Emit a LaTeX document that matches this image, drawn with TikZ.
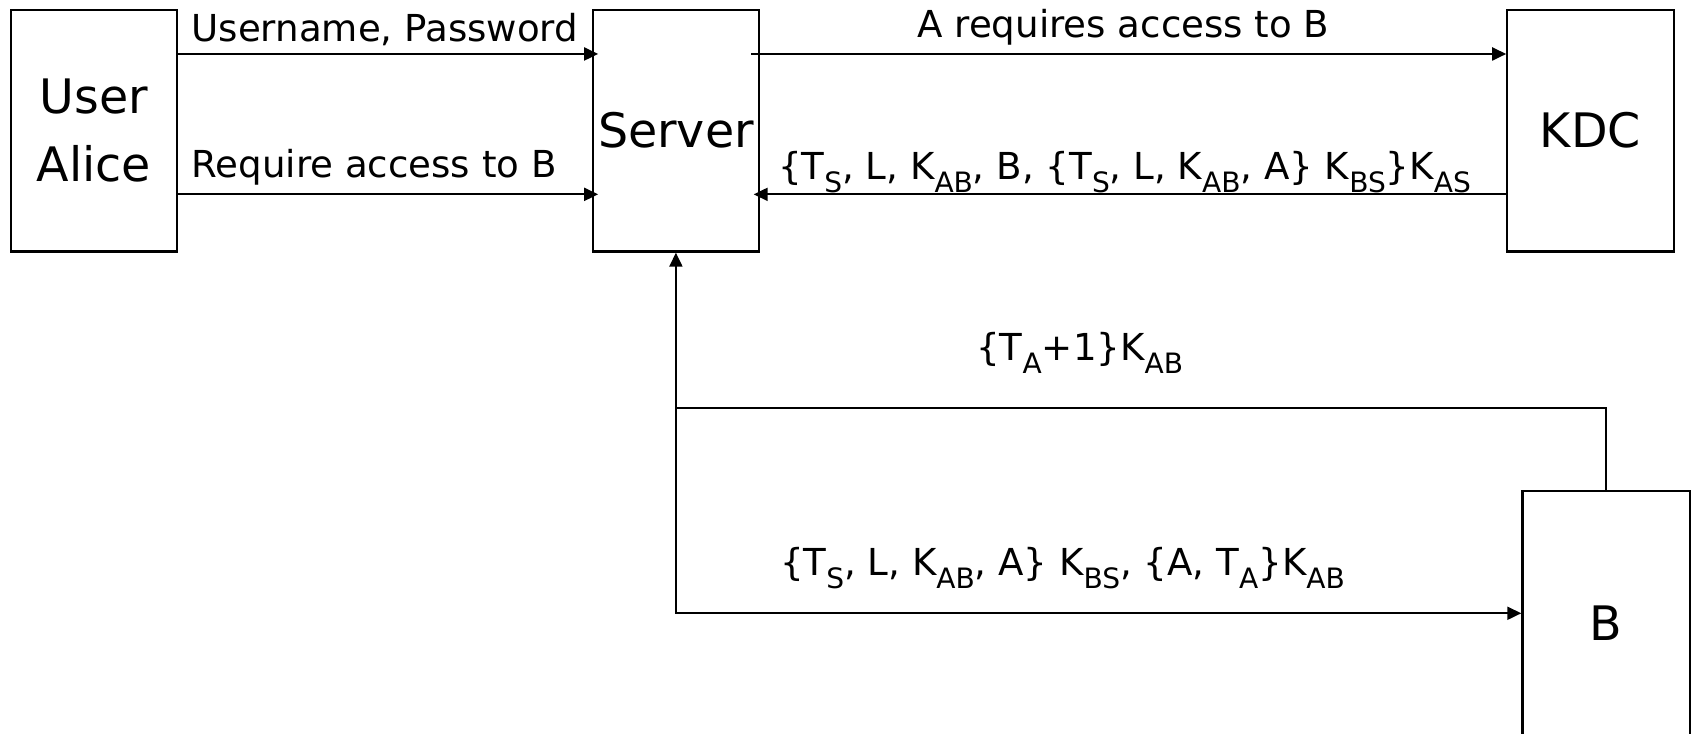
\documentclass[tikz,border=0pt]{standalone}
\usepackage{fontspec}
\setmainfont{DejaVu Sans}
\usetikzlibrary{arrows.meta,calc}
% lowered subscript as used in the message labels
\newcommand\sbs[1]{\raisebox{-0.36em}{\fontsize{13}{13}\selectfont #1}}

\begin{document}
\begin{tikzpicture}[x=0.5pt,y=-0.5pt,
  entity/.style={draw,line width=1pt,minimum width=77pt,minimum height=112pt,
    inner sep=0pt,align=center,font=\fontsize{22}{31.5}\selectfont},
  msg/.style={inner sep=0pt,font=\fontsize{17.2}{20}\selectfont},
  arr/.style={line width=1pt,-{Triangle[length=6.5pt,width=6pt]}},
  link/.style={line width=1pt}]
\clip (0,0) rectangle (1568,679);

% parties
\node[entity] (alice)  at (87,121)   {User\\Alice};
\node[entity] (server) at (626,121)  {Server};
\node[entity] (kdc)    at (1473,121) {KDC};
\node[entity,minimum width=77.5pt,minimum height=122.5pt] (b) at (1487.5,577.5) {B};

% junction points of the lower routes
\coordinate (j)  at (server.south |- 0,378);
\coordinate (jb) at (b.north |- 0,378);

% Alice -> Server
\draw[arr] (alice.east |- 0,50)  -- ($(server.west |- 0,50)+(6,0)$);
\draw[arr] (alice.east |- 0,180) -- ($(server.west |- 0,180)+(6,0)$);
% Server <-> KDC
\draw[arr] ($(server.east |- 0,50)+(-8,0)$) -- (kdc.west |- 0,50);
\draw[arr] (kdc.west |- 0,180) -- ($(server.east |- 0,180)+(-6,0)$);
% B -> Server
\draw[arr] (b.north) -- (jb) -- (j) -- (server.south);
% Server -> B
\draw[arr] (j) |- (b.west |- 0,568);

% message labels
\node[msg,anchor=base west] (l1) at (177,38)  {Username, Password};
\node[msg,anchor=base west] (l2) at (177,164) {Require access to B};
\node[msg,anchor=base] (l3) at (1040.5,35) {A requires access to B};
\node[msg,anchor=base] (l4) at (1041.5,166)
  {\{T\sbs{S}, L, K\sbs{AB}, B, \{T\sbs{S}, L, K\sbs{AB}, A\} K\sbs{BS}\}K\sbs{AS}};
\node[msg,anchor=base] (l5) at (1000,334) {\{T\sbs{A}+1\}K\sbs{AB}};
\node[msg,anchor=base] (l6) at (984,533)
  {\{T\sbs{S}, L, K\sbs{AB}, A\} K\sbs{BS}, \{A, T\sbs{A}\}K\sbs{AB}};
\end{tikzpicture}
\end{document}
